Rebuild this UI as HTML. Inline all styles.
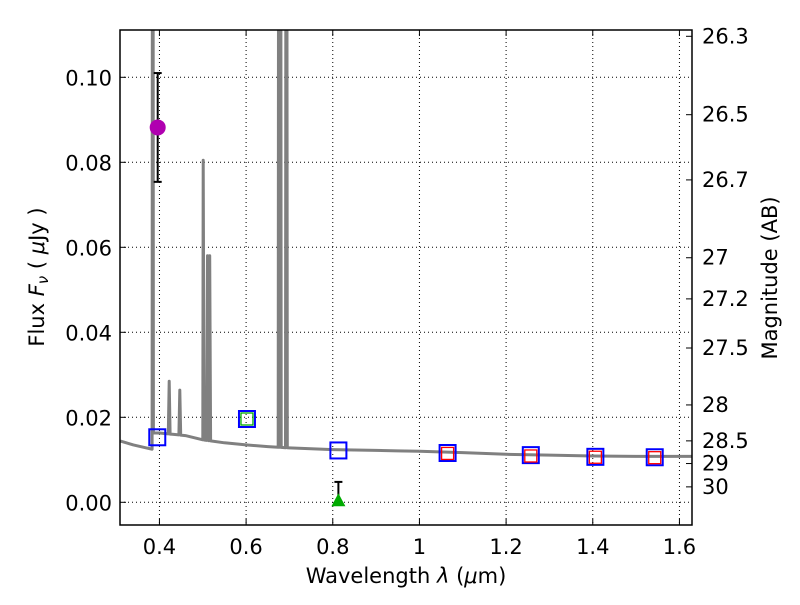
<!DOCTYPE html>
<html><head><meta charset="utf-8"><style>
body{margin:0;background:#fff;}
svg text{font-family:"DejaVu Sans","Liberation Sans",sans-serif;}
</style></head><body>
<svg id="chart" width="800" height="600" xmlns="http://www.w3.org/2000/svg">
<defs><clipPath id="clip"><rect x="120" y="30" width="572" height="495"/></clipPath></defs>
<rect x="0" y="0" width="800" height="600" fill="#fff"/>
<g id="grid"></g>
<g id="plot" clip-path="url(#clip)"></g>
<g id="axes"></g>
<text x="406" y="583" font-size="21" text-anchor="middle">Wavelength  <tspan font-style="italic">λ</tspan> (<tspan font-style="italic">μ</tspan>m)</text>
<text transform="translate(44,277) rotate(-90)" font-size="21" text-anchor="middle">Flux  <tspan font-style="italic">F<tspan font-size="15" dy="4">ν</tspan></tspan><tspan dy="-4">  ( </tspan><tspan font-style="italic">μ</tspan>Jy )</text>
<text transform="translate(777,278) rotate(-90)" font-size="21" text-anchor="middle">Magnitude (AB)</text>
</svg>
<script>
const xTicks=[0.4,0.6,0.8,1.0,1.2,1.4,1.6];
const xTickLabels=["0.4","0.6","0.8","1","1.2","1.4","1.6"];
const yTicks=[0,0.02,0.04,0.06,0.08,0.10];
const yTickLabels=["0.00","0.02","0.04","0.06","0.08","0.10"];
const magTicks=[26.3,26.5,26.7,27,27.2,27.5,28,28.5,29,30];
const magTickLabels=["26.3","26.5","26.7","27","27.2","27.5","28","28.5","29","30"];
const contWave=[0.31,0.34,0.37,0.383,0.386,0.40,0.43,0.46,0.50,0.55,0.60,0.65,0.70,0.75,0.80,0.85,0.90,0.95,1.0,1.1,1.2,1.3,1.4,1.5,1.63];
const contFlux=[0.0144,0.0135,0.0128,0.0125,0.0163,0.0163,0.0160,0.0157,0.0147,0.0140,0.0135,0.0131,0.0128,0.0126,0.0124,0.0123,0.0122,0.0121,0.0120,0.0117,0.0113,0.0111,0.0109,0.0108,0.0108];
const lineWave=[0.3845,0.4225,0.447,0.501,0.511,0.516,0.676,0.679,0.693];
const linePeak=[0.3,0.0285,0.0264,0.0805,0.058,0.058,0.3,0.3,0.3];
const photWave=[0.395,0.602,0.813,1.065,1.257,1.406,1.543];
const photFlux=[0.0153,0.0196,0.0122,0.0116,0.0111,0.0107,0.0106];
const modelWave=[0.602,1.065,1.257,1.406,1.543];
const modelFlux=[0.0196,0.0115,0.0109,0.0106,0.0105];
const modelColor=["#00aa00","red","red","red","red"];
const detWave=[0.396];const detFlux=[0.0882];const detErr=[0.0128];
const limWave=[0.813];const limFlux=[0.0];const limErr=[0.0048];

const X0=120,X1=692,Y0=30,Y1=525,XMIN=0.309,XMAX=1.629;
const sx=v=>X0+(v-XMIN)/(XMAX-XMIN)*(X1-X0);
const sy=v=>502.3-v*4250;
const NS="http://www.w3.org/2000/svg";
function mk(tag,attrs,parent){const e=document.createElementNS(NS,tag);for(const k in attrs)e.setAttribute(k,attrs[k]);parent.appendChild(e);return e;}
const grid=document.getElementById('grid'),plot=document.getElementById('plot'),axes=document.getElementById('axes');
xTicks.forEach((t,i)=>{
  const g=mk('line',{x1:sx(t),x2:sx(t),y1:Y0,y2:Y1,stroke:'#000','stroke-width':1,'stroke-dasharray':'1,3'},grid);
  
  
  mk('line',{x1:sx(t),x2:sx(t),y1:Y1,y2:Y1-6,stroke:'#000','stroke-width':1},axes);
  mk('line',{x1:sx(t),x2:sx(t),y1:Y0,y2:Y0+6,stroke:'#000','stroke-width':1},axes);
  const tx=mk('text',{x:sx(t),y:Y1+29,'font-size':21,'text-anchor':'middle'},axes);tx.textContent=xTickLabels[i];
  
  
});
yTicks.forEach((t,i)=>{
  const g=mk('line',{x1:X0,x2:X1,y1:sy(t),y2:sy(t),stroke:'#000','stroke-width':1,'stroke-dasharray':'1,3'},grid);
  
  
  mk('line',{x1:X0,x2:X0+6,y1:sy(t),y2:sy(t),stroke:'#000','stroke-width':1},axes);
  const tx=mk('text',{x:X0-8,y:sy(t)+8,'font-size':21,'text-anchor':'end'},axes);tx.textContent=yTickLabels[i];
  
  
});
magTicks.forEach((m,i)=>{
  const f=Math.pow(10,(23.9-m)/2.5);const y=sy(f);
  mk('line',{x1:X1,x2:X1-6,y1:y,y2:y,stroke:'#000','stroke-width':1},axes);
  const tx=mk('text',{x:X1+10,y:y+7,'font-size':21},axes);tx.textContent=magTickLabels[i];
  
  
});
const frame=mk('rect',{x:X0,y:Y0,width:X1-X0,height:Y1-Y0,fill:'none',stroke:'#000','stroke-width':1.5},axes);


function cont(w){for(let i=0;i<contWave.length-1;i++){if(w<=contWave[i+1]){const t=(w-contWave[i])/(contWave[i+1]-contWave[i]);return contFlux[i]+t*(contFlux[i+1]-contFlux[i]);}}return contFlux[contFlux.length-1];}
let pts=[];contWave.forEach((w,i)=>pts.push([w,contFlux[i]]));
lineWave.forEach((w,i)=>{pts.push([w-0.002,cont(w-0.002)]);pts.push([w,linePeak[i]]);pts.push([w+0.002,cont(w+0.002)]);});
pts.sort((a,b)=>a[0]-b[0]);
const spec=mk('path',{d:pts.map((p,i)=>(i?'L':'M')+sx(p[0]).toFixed(1)+','+sy(p[1]).toFixed(1)).join(''),fill:'none',stroke:'#808080','stroke-width':3,'stroke-linejoin':'round'},plot);


function ebar(x,lo,hi){mk('line',{x1:sx(x),x2:sx(x),y1:sy(lo),y2:sy(hi),stroke:'#000','stroke-width':2},plot);
  [lo,hi].forEach(v=>mk('line',{x1:sx(x)-4,x2:sx(x)+4,y1:sy(v),y2:sy(v),stroke:'#000','stroke-width':2},plot));}
photWave.forEach((w,i)=>{
  const r=mk('rect',{x:sx(w)-8,y:sy(photFlux[i])-8,width:16,height:16,fill:'none',stroke:'blue','stroke-width':2},plot);
  
  
});
modelWave.forEach((w,i)=>{
  const r=mk('rect',{x:sx(w)-6,y:sy(modelFlux[i])-6,width:12,height:12,fill:'none',stroke:modelColor[i],'stroke-width':1.3},plot);
  
  
});
detWave.forEach((w,i)=>{
  ebar(w,detFlux[i]-detErr[i],detFlux[i]+detErr[i]);
  const c=mk('circle',{cx:sx(w),cy:sy(detFlux[i]),r:8,fill:'#b000b0'},plot);
  
  
});
limWave.forEach((w,i)=>{
  mk('line',{x1:sx(w),x2:sx(w),y1:sy(limFlux[i]),y2:sy(limFlux[i]+limErr[i]),stroke:'#000','stroke-width':2},plot);
  mk('line',{x1:sx(w)-4,x2:sx(w)+4,y1:sy(limFlux[i]+limErr[i]),y2:sy(limFlux[i]+limErr[i]),stroke:'#000','stroke-width':2},plot);
  const x=sx(w),y=sy(limFlux[i]);
  const t=mk('polygon',{points:`${x},${y-9} ${x-7},${y+4} ${x+7},${y+4}`,fill:'#00aa00'},plot);
  
  
});
</script>
</body></html>
